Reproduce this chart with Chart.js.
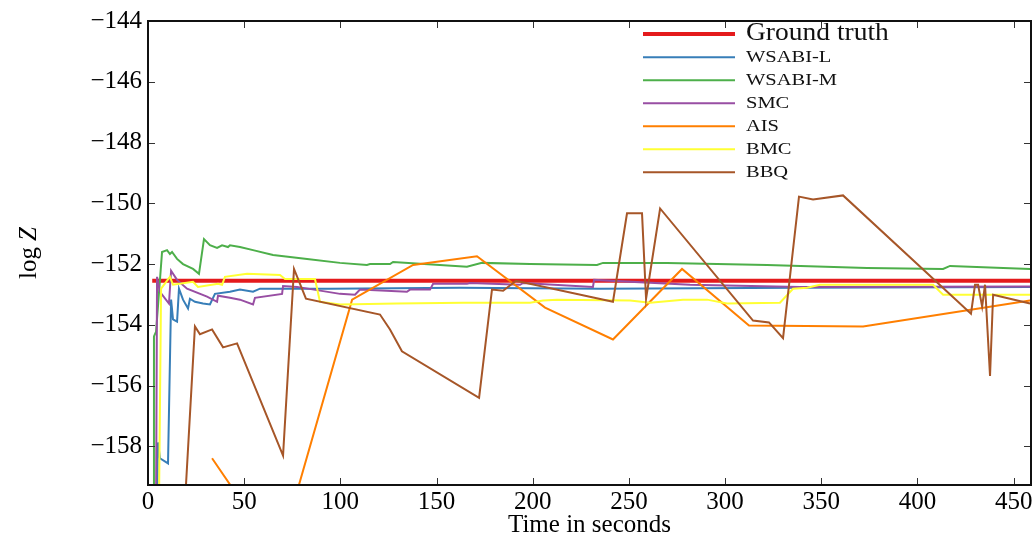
<!DOCTYPE html>
<html>
<head>
<meta charset="utf-8">
<script src="https://cdn.jsdelivr.net/npm/chart.js@4.4.1/dist/chart.umd.min.js"></script>
<style>
  html, body { margin: 0; padding: 0; background: #fff; }
  canvas { display: block; }
</style>
</head>
<body>
<canvas id="myChart" width="1035" height="540"></canvas>
<script>
// values (time in seconds, log Z)
const seriesNames = ['Ground truth', 'WSABI-L', 'WSABI-M', 'SMC', 'AIS', 'BMC', 'BBQ'];
const seriesColors = ['#e41a1c', '#377eb8', '#4daf4a', '#984ea3', '#ff7f00', '#ffff33', '#a65628'];

const truthX = [2.2, 459];
const truthY = [-152.55, -152.55];

const wsabiLX = [4.7, 5.2, 6.2, 10.4, 12.0, 13.0, 15.1, 16.1, 18.2, 20.8, 21.8, 24.4, 28.6, 32.2, 34.8, 42.6, 47.8, 54.6, 58.2, 79, 94.6, 162, 235, 339, 458.5];
const wsabiLY = [-160, -157.87, -158.39, -158.56, -153.17, -153.82, -153.89, -152.81, -153.17, -153.46, -153.14, -153.24, -153.30, -153.33, -152.98, -152.91, -152.84, -152.91, -152.81, -152.81, -152.81, -152.78, -152.81, -152.78, -152.75];

const wsabiMX = [2.6, 3.1, 4.2, 7.3, 9.9, 11.4, 12.5, 15.1, 18.2, 23.4, 26.5, 29.1, 32.2, 35.9, 38.5, 41.6, 42.6, 47.8, 54.6, 65.0, 82.7, 99.8, 113.8, 115.4, 125.8, 127.4, 165.8, 173.6, 198.6, 233.4, 236.5, 269.8, 321.8, 373.8, 413.3, 416.9, 458.5];
const wsabiMY = [-160, -154.38, -154.22, -151.60, -151.54, -151.67, -151.60, -151.83, -152.0, -152.16, -152.32, -151.18, -151.38, -151.47, -151.38, -151.44, -151.38, -151.44, -151.54, -151.70, -151.83, -151.96, -152.03, -152.0, -152.0, -151.93, -152.09, -151.96, -152.0, -152.03, -151.96, -151.96, -152.03, -152.13, -152.16, -152.06, -152.16];

const smcX = [4.2, 4.7, 6.2, 10.9, 12.0, 15.1, 20.3, 30.7, 35.9, 36.4, 42.6, 47.8, 54.6, 55.6, 69.7, 70.2, 77.5, 99.8, 107.6, 110.2, 134.6, 136.2, 146.6, 148.2, 165.8, 167.4, 193.4, 195.0, 231.3, 231.9, 281.8, 339, 458.5];
const smcY = [-160, -152.42, -152.91, -153.30, -152.22, -152.52, -152.81, -153.07, -153.24, -153.04, -153.11, -153.17, -153.33, -153.11, -152.98, -152.72, -152.75, -152.98, -153.01, -152.84, -152.91, -152.84, -152.84, -152.65, -152.65, -152.62, -152.68, -152.62, -152.75, -152.52, -152.68, -152.75, -152.74];

const aisX = [33.3, 67.9, 106.1, 137.8, 171.0, 206.4, 241.7, 277.6, 312.4, 371.7, 458.5];
const aisY = [-158.39, -161.6, -153.17, -152.03, -151.74, -153.43, -154.48, -152.16, -154.02, -154.05, -153.20];

const bmcX = [5.7, 6.8, 11.4, 13.0, 23.4, 26.0, 36.4, 38.5, 40.0, 51.5, 68.6, 71.2, 86.8, 89.4, 99.8, 129.4, 163.8, 198.6, 205.3, 212.6, 250.6, 261, 278.1, 290.6, 301, 328.5, 335.3, 342.6, 349.3, 408.1, 413.3, 458.5];
const bmcY = [-160, -152.81, -152.42, -152.68, -152.58, -152.75, -152.65, -152.68, -152.42, -152.32, -152.36, -152.49, -152.49, -153.24, -153.33, -153.30, -153.27, -153.27, -153.20, -153.17, -153.20, -153.27, -153.17, -153.17, -153.30, -153.27, -152.81, -152.78, -152.68, -152.68, -153.01, -153.01];

const bbqX = [18.2, 24.4, 27.0, 33.3, 39.0, 46.3, 70.2, 75.9, 82.1, 120.6, 125.8, 132.0, 172.1, 178.8, 184.6, 191.3, 241.7, 249.0, 256.8, 258.9, 266.2, 314.5, 322.8, 330.1, 338.4, 345.7, 361.3, 427.8, 429.9, 431.5, 433.6, 435.1, 437.7, 439.3, 458.5];
const bbqY = [-161, -154.05, -154.31, -154.15, -154.74, -154.61, -158.30, -152.16, -153.14, -153.66, -154.15, -154.87, -156.40, -152.84, -152.88, -152.55, -153.24, -150.33, -150.33, -153.14, -150.17, -153.86, -153.92, -154.44, -149.78, -149.87, -149.74, -153.63, -152.68, -152.68, -153.40, -152.68, -155.68, -153.01, -153.30];

const xTickStep = 50;
const yTickStep = 2;

const allX = [truthX, wsabiLX, wsabiMX, smcX, aisX, bmcX, bbqX];
const allY = [truthY, wsabiLY, wsabiMY, smcY, aisY, bmcY, bbqY];

const serif = "'Liberation Serif', 'Times New Roman', serif";

const datasets = seriesNames.map((name, i) => ({
  label: name,
  data: allX[i].map((x, j) => ({ x: x, y: allY[i][j] })),
  borderColor: seriesColors[i],
  backgroundColor: seriesColors[i],
  borderWidth: i === 0 ? 4 : 2,
  pointRadius: 0,
  tension: 0,
  fill: false,
  clip: 0,
  order: seriesNames.length - i
}));

// box, inward ticks, y title and legend
const decorations = {
  id: 'decorations',
  afterDatasetsDraw(chart) {
    const { ctx, chartArea: a, scales: { x, y } } = chart;
    ctx.save();
    ctx.strokeStyle = '#333';
    ctx.lineWidth = 1;
    const tl = 7;
    x.ticks.forEach(t => {
      const p = Math.round(x.getPixelForValue(t.value)) + 0.5;
      ctx.beginPath();
      ctx.moveTo(p, a.bottom); ctx.lineTo(p, a.bottom - tl);
      ctx.moveTo(p, a.top); ctx.lineTo(p, a.top + tl);
      ctx.stroke();
    });
    y.ticks.forEach(t => {
      const p = Math.round(y.getPixelForValue(t.value)) + 0.5;
      ctx.beginPath();
      ctx.moveTo(a.left, p); ctx.lineTo(a.left + tl, p);
      ctx.moveTo(a.right, p); ctx.lineTo(a.right - tl, p);
      ctx.stroke();
    });
    ctx.strokeStyle = '#111';
    ctx.lineWidth = 2;
    ctx.strokeRect(a.left, a.top, a.right - a.left, a.bottom - a.top);

    // y axis title: log Z
    ctx.fillStyle = '#000';
    ctx.translate(29, (a.top + a.bottom) / 2);
    ctx.rotate(-Math.PI / 2);
    ctx.textBaseline = 'middle';
    ctx.font = '25px ' + serif;
    const w1 = ctx.measureText('log').width;
    ctx.font = 'italic 25px ' + serif;
    const w2 = ctx.measureText('Z').width;
    const gap = 6;
    let sx = -(w1 + gap + w2) / 2;
    ctx.font = '25px ' + serif;
    ctx.textAlign = 'left';
    ctx.fillText('log', sx, 0);
    ctx.font = 'italic 25px ' + serif;
    ctx.fillText('Z', sx + w1 + gap, 0);
    ctx.restore();

    // legend
    ctx.save();
    ctx.textBaseline = 'alphabetic';
    ctx.textAlign = 'left';
    chart.data.datasets.forEach((ds, i) => {
      const ly = i === 0 ? 34 : 57.3 + 23 * (i - 1);
      ctx.strokeStyle = ds.borderColor;
      ctx.lineWidth = ds.borderWidth;
      ctx.beginPath();
      ctx.moveTo(643, ly);
      ctx.lineTo(735, ly);
      ctx.stroke();
      ctx.fillStyle = '#111';
      const big = i === 0;
      const stretch = big ? 1.1 : 1.28;
      ctx.font = (big ? 25 : 16) + 'px ' + serif;
      ctx.save();
      ctx.scale(stretch, 1);
      ctx.fillText(ds.label, 746 / stretch, ly + (big ? 5.5 : 5));
      ctx.restore();
    });
    ctx.restore();
  }
};

const ctx = document.getElementById('myChart').getContext('2d');
new Chart(ctx, {
  type: 'line',
  data: { datasets: datasets },
  options: {
    responsive: false,
    animation: false,
    devicePixelRatio: 1,
    layout: { padding: { top: 17, right: 4, left: 0, bottom: 0 } },
    plugins: {
      legend: { display: false },
      tooltip: { enabled: false }
    },
    scales: {
      x: {
        type: 'linear',
        min: 0,
        max: 459,
        grid: { display: false, drawTicks: false },
        border: { display: false },
        ticks: {
          stepSize: xTickStep,
          includeBounds: false,
          maxRotation: 0,
          autoSkip: false,
          padding: 2,
          color: '#000',
          font: { family: serif, size: 25 }
        },
        title: {
          display: true,
          text: 'Time in seconds',
          color: '#000',
          font: { family: serif, size: 25 },
          padding: { top: 0, bottom: 0 }
        },
        afterFit(scale) { scale.height = 55; }
      },
      y: {
        min: -159.27,
        max: -144,
        grid: { display: false, drawTicks: false },
        border: { display: false },
        ticks: {
          stepSize: yTickStep,
          includeBounds: false,
          autoSkip: false,
          padding: 6,
          color: '#000',
          font: { family: serif, size: 25 },
          callback: v => (v < 0 ? '\u2212' + Math.abs(v) : String(v))
        },
        afterFit(scale) { scale.width = 148; }
      }
    }
  },
  plugins: [decorations]
});
</script>
</body>
</html>
